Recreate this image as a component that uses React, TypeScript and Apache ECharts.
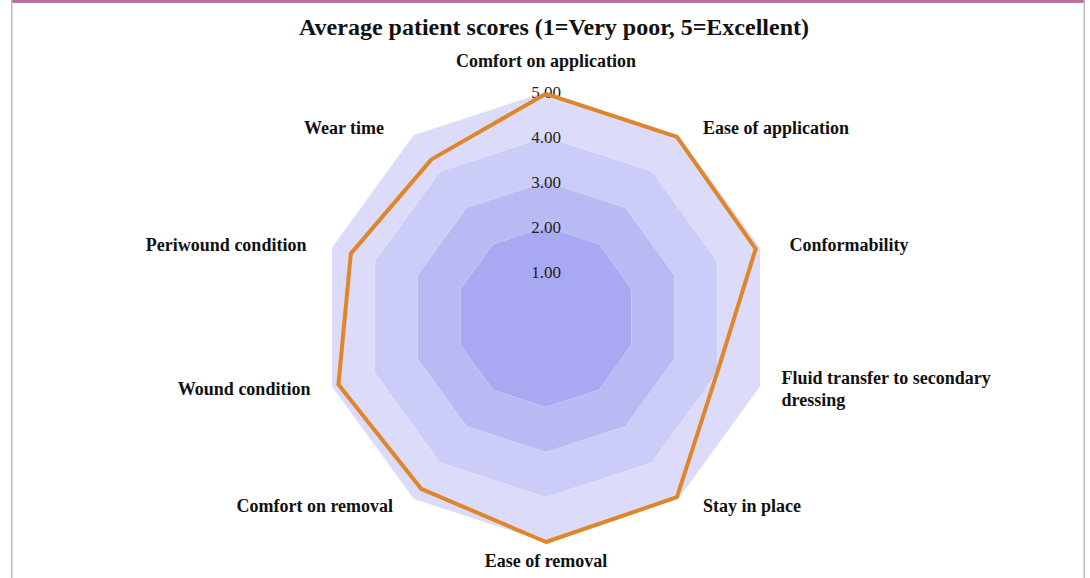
import React, { useEffect, useRef } from "react";
import * as echarts from "echarts";

// Categories in clockwise order starting at the top (as in the reference)
const categories: string[] = [
  "Comfort on application",
  "Ease of application",
  "Conformability",
  "Fluid transfer to secondary\ndressing",
  "Stay in place",
  "Ease of removal",
  "Comfort on removal",
  "Wound condition",
  "Periwound condition",
  "Wear time",
];

const scores: number[] = [4.96, 4.95, 4.9, 4.0, 4.95, 5.0, 4.72, 4.85, 4.56, 4.33];

const tickLabels: string[] = ["", "1.00", "2.00", "3.00", "4.00", "5.00"];

const titleText = "Average patient scores (1=Very poor, 5=Excellent)";
const FONT = "'Liberation Serif', serif";

// extra spacing (px) between each category name and the chart edge, clockwise order
const nameStyleKeys: string[] = ["t", "l20", "l22", "l14", "l20", "b", "r16", "r14", "r18", "r25"];

export default function App() {
  const ref = useRef<HTMLDivElement>(null);

  useEffect(() => {
    if (!ref.current) return;
    const chart = echarts.init(ref.current, null, { renderer: "svg" });

    const baseText = {
      fontFamily: FONT,
      fontWeight: "bold",
      fontSize: 18,
      lineHeight: 22,
      color: "#111",
    } as any;
    const rich: Record<string, any> = {
      t: { ...baseText, padding: [0, 0, 14, 0] },
      b: { ...baseText, padding: [0, 0, 0, 0] },
    };
    nameStyleKeys.forEach((k) => {
      if (k.length > 1 && !rich[k]) {
        const n = parseInt(k.slice(1), 10);
        rich[k] = { ...baseText, padding: k[0] === "l" ? [0, 0, 0, n] : [0, n, 0, 0] };
      }
    });

    // ECharts lays indicators counter-clockwise; keep first at top and reverse the rest
    const order = [0, ...categories.map((_, i) => i).slice(1).reverse()];
    const indicator = order.map((i, k) => {
      const base: any = { name: categories[i], min: 0, max: 5 };
      if (k === 0) {
        base.axisLabel = {
          show: true,
          margin: 0,
          align: "center",
          verticalAlign: "middle",
          color: "#222",
          fontSize: 17,
          fontFamily: FONT,
          formatter: (v: number) => tickLabels[Math.round(v)] ?? "",
        };
      }
      return base;
    });
    const values = order.map((i) => scores[i]);

    chart.setOption({
      animation: false,
      backgroundColor: "#ffffff",
      title: {
        text: titleText,
        left: 549,
        textAlign: "center",
        top: 10,
        textStyle: {
          fontFamily: FONT,
          fontWeight: "bold",
          fontSize: 24,
          color: "#111",
        },
      },
      graphic: [
        { type: "rect", shape: { x: 11, y: 0, width: 1074, height: 3 }, style: { fill: "#B5739A" } },
        { type: "rect", shape: { x: 11, y: 0, width: 1.5, height: 578 }, style: { fill: "#BDBDBD" } },
        { type: "rect", shape: { x: 1083.5, y: 0, width: 1.5, height: 578 }, style: { fill: "#BDBDBD" } },
      ],
      radar: {
        center: [546, 317],
        radius: 225,
        startAngle: 90,
        splitNumber: 5,
        shape: "polygon",
        nameGap: 8,
        axisName: {
          ...baseText,
          rich,
          formatter: (name: string) => {
            const idx = categories.indexOf(name);
            const key = nameStyleKeys[idx] || "b";
            return name
              .split("\n")
              .map((line) => `{${key}|${line}}`)
              .join("\n");
          },
        },
        axisLine: { show: false },
        axisTick: { show: false },
        axisLabel: { show: false },
        splitLine: {
          show: true,
          lineStyle: {
            width: 1.5,
            color: ["transparent", "#A8A9F2", "transparent", "transparent", "transparent", "transparent"],
          },
        },
        splitArea: {
          show: true,
          areaStyle: {
            color: ["#A8A9F2", "#A8A9F2", "#B9BAF4", "#CBCCF7", "#DCDCFA"],
          },
        },
        indicator,
      },
      series: [
        {
          type: "radar",
          symbol: "none",
          lineStyle: { color: "#E0862A", width: 4 },
          itemStyle: { color: "#E0862A" },
          data: [{ value: values, name: "Average score" }],
        },
      ],
    });

    return () => chart.dispose();
  }, []);

  return (
    <div
      ref={ref}
      style={{ position: "absolute", left: 0, top: 0, width: 1090, height: 578 }}
    />
  );
}
